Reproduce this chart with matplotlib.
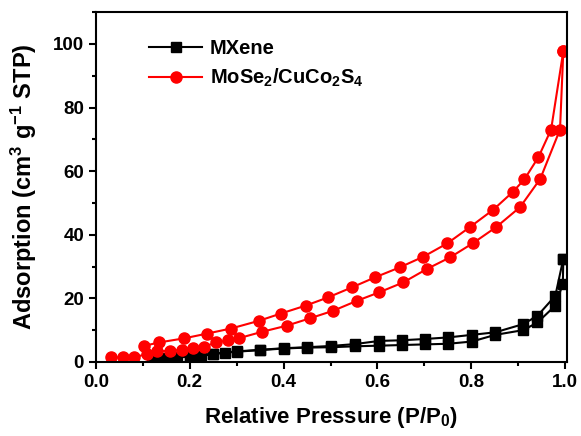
import matplotlib
matplotlib.use('Agg')
import matplotlib.pyplot as plt
from matplotlib.ticker import MultipleLocator

plt.rcParams['font.family'] = 'Liberation Sans'
plt.rcParams['font.weight'] = 'bold'
plt.rcParams['mathtext.fontset'] = 'custom'
plt.rcParams['mathtext.rm'] = 'Liberation Sans:bold'
plt.rcParams['mathtext.default'] = 'rm'

# MXene isotherm
mx_ads_p = [0.12, 0.135, 0.152, 0.172, 0.2, 0.225, 0.25, 0.275, 0.3, 0.35, 0.4, 0.449, 0.5,
            0.552, 0.604, 0.652, 0.701, 0.751, 0.801, 0.851, 0.911, 0.941, 0.979, 0.995, 0.996]
mx_ads_v = [0.5, 0.8, 1.2, 1.4, 1.6, 1.9, 2.4, 2.9, 3.2, 3.7, 4.2, 4.5, 4.6,
            4.9, 5.1, 5.3, 5.5, 5.7, 6.4, 8.5, 10.0, 12.4, 17.7, 24.5, 32.4]
mx_des_p = [0.996, 0.979, 0.941, 0.911, 0.851, 0.801, 0.751, 0.701, 0.652, 0.604, 0.552,
            0.5, 0.449, 0.4, 0.35, 0.3, 0.25, 0.2]
mx_des_v = [32.4, 20.8, 14.5, 11.9, 9.3, 8.5, 7.7, 7.2, 6.8, 6.6, 5.6,
            5.0, 4.6, 4.3, 3.8, 3.3, 2.6, 1.8]

# MoSe2/CuCo2S4 isotherm
ms_ads_p = [0.033, 0.058, 0.082, 0.108, 0.131, 0.158, 0.183, 0.207, 0.231, 0.256, 0.282, 0.306,
            0.355, 0.407, 0.456, 0.506, 0.556, 0.604, 0.655, 0.705, 0.755, 0.803, 0.853, 0.904,
            0.947, 0.989, 0.996]
ms_ads_v = [1.4, 1.4, 1.5, 2.4, 3.3, 3.5, 3.8, 4.5, 4.8, 6.1, 6.8, 7.5,
            9.5, 11.4, 13.7, 16.1, 19.2, 21.9, 25.0, 29.2, 32.9, 37.3, 42.4, 48.7,
            57.6, 73.1, 97.7]
ms_des_p = [0.996, 0.970, 0.943, 0.913, 0.888, 0.847, 0.797, 0.749, 0.698, 0.647, 0.595,
            0.545, 0.495, 0.447, 0.394, 0.347, 0.288, 0.237, 0.188, 0.134, 0.102]
ms_des_v = [97.7, 73.1, 64.4, 57.4, 53.4, 47.9, 42.4, 37.3, 33.1, 29.7, 26.6,
            23.4, 20.3, 17.7, 15.2, 12.9, 10.5, 8.9, 7.4, 6.1, 5.0]

fig = plt.figure(figsize=(5.81, 4.36), dpi=100)
ax = fig.add_axes([0.165, 0.170, 0.811, 0.802])

ax.plot(mx_ads_p, mx_ads_v, 'k-s', lw=1.5, ms=7, label='MXene')
ax.plot(mx_des_p, mx_des_v, 'k-s', lw=1.5, ms=7)
ax.plot(ms_ads_p, ms_ads_v, '-o', color='#ff0000', mfc='#ff0000', mec='#ff0000', lw=1.5, ms=8,
        label='MoSe$_2$/CuCo$_2$S$_4$')
ax.plot(ms_des_p, ms_des_v, '-o', color='#ff0000', mfc='#ff0000', mec='#ff0000', lw=1.5, ms=8)

ax.set_xlim(0, 1.004)
ax.set_ylim(0, 110)
ax.xaxis.set_major_locator(MultipleLocator(0.2))
ax.xaxis.set_minor_locator(MultipleLocator(0.1))
ax.yaxis.set_major_locator(MultipleLocator(20))
ax.yaxis.set_minor_locator(MultipleLocator(10))
ax.set_xticks([0.0, 0.2, 0.4, 0.6, 0.8, 1.0])
ax.set_xticklabels(['0.0', '0.2', '0.4', '0.6', '0.8', '1.0'])
ax.tick_params(which='both', direction='out', top=False, right=False, width=1.5, labelsize=13.5)
ax.tick_params(which='major', length=5)
ax.tick_params(which='minor', length=3)
for s in ax.spines.values():
    s.set_linewidth(1.5)

ax.set_xlabel('Relative Pressure (P/P$_0$)', fontsize=16, fontweight='bold', labelpad=10)
ax.set_ylabel('Adsorption (cm$^3$ g$^{{-}1}$ STP)', fontsize=17, fontweight='bold', labelpad=10)

ax.legend(loc='upper left', frameon=False, fontsize=14.5, bbox_to_anchor=(0.075, 0.975),
          handlelength=2.6, handletextpad=0.4, labelspacing=0.45)

fig.savefig('out.png', dpi=100)
